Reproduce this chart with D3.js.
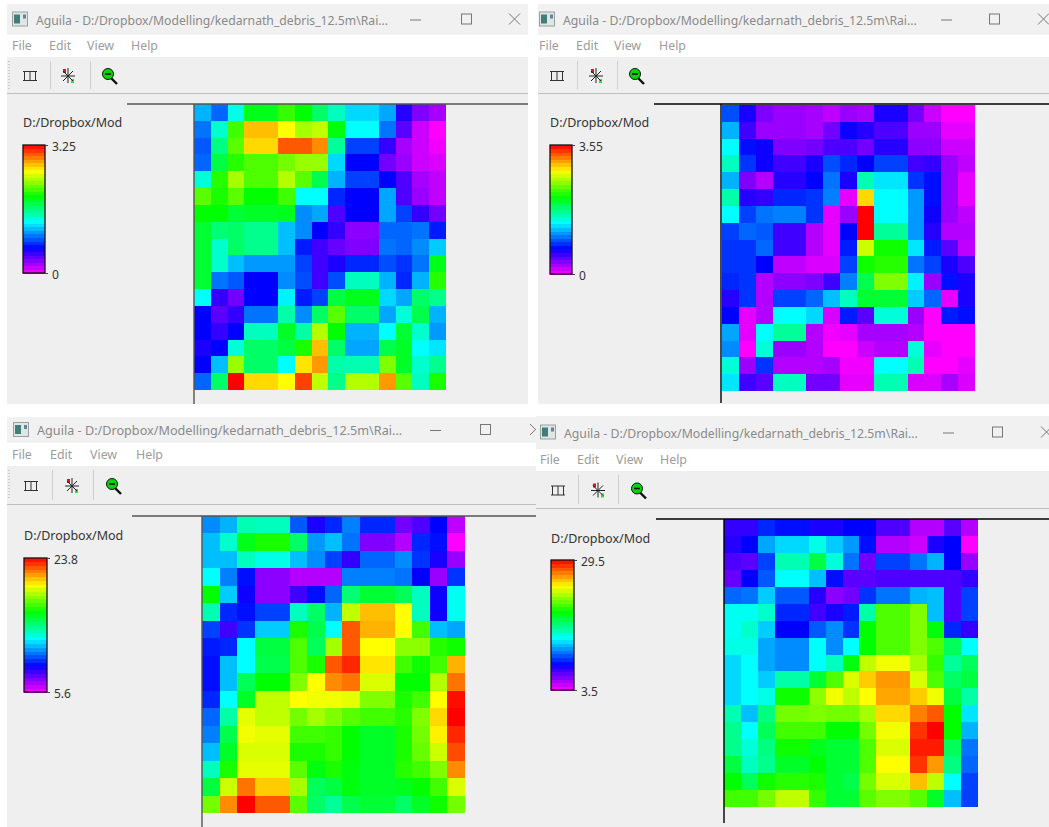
<!DOCTYPE html>
<html>
<head>
<meta charset="utf-8">
<script src="https://cdnjs.cloudflare.com/ajax/libs/d3/7.8.5/d3.min.js"></script>
<style>
  body { margin: 0; background: #fff; }
  text { font-family: "Noto Sans", sans-serif; }
</style>
</head>
<body>
<div id="wrapper"></div>
<script>
// grid values are given as position on the legend ramp, 0 = legend min, 100 = legend max
const rainA = [
  [34,28,42,58,58,64,60,52,45,37,37,33,17,10,7],
  [29,44,65,85,85,80,73,75,59,40,40,29,13,4,0],
  [27,50,67,83,83,93,93,89,48,25,25,16,7,4,1],
  [28,55,63,66,66,69,72,72,37,20,20,11,8,4,3],
  [43,63,73,66,66,74,67,54,34,25,25,20,14,7,5],
  [67,62,67,60,60,65,40,40,23,20,20,33,14,8,5],
  [60,60,56,57,57,58,31,33,14,20,20,33,25,16,11],
  [56,51,52,49,49,35,31,20,16,9,9,28,28,29,22],
  [56,44,52,49,49,35,22,15,12,10,10,29,28,31,36],
  [56,44,35,32,32,32,25,15,18,23,23,26,24,29,58],
  [56,29,27,20,20,31,26,15,26,45,45,34,23,34,63],
  [40,16,11,20,20,39,22,25,55,58,58,37,33,52,49],
  [20,13,16,29,29,47,31,52,67,52,52,33,43,54,34],
  [20,16,20,45,45,57,47,74,60,34,34,40,56,44,32],
  [18,20,43,52,52,55,62,85,52,33,33,54,57,40,38],
  [20,35,72,52,52,40,82,88,47,46,46,70,57,44,49],
  [28,52,100,83,83,80,95,75,49,74,74,88,67,45,62]
];
const rainB = [
  [26,18,10,8,8,7,5,8,7,18,18,11,4,0,0],
  [34,15,8,8,8,7,11,19,17,14,14,8,8,2,2],
  [40,21,19,10,10,11,14,14,11,17,17,9,9,4,4],
  [45,24,19,15,15,18,26,23,20,25,25,15,16,8,5],
  [34,10,6,17,17,20,29,18,46,38,38,24,21,8,2],
  [47,17,16,23,23,24,30,2,83,40,40,32,21,8,2],
  [40,25,29,30,30,24,2,8,100,40,40,32,19,8,5],
  [25,28,27,15,15,6,2,20,100,48,48,32,17,6,6],
  [24,24,28,15,15,6,2,22,76,61,61,38,22,13,5],
  [24,24,20,5,5,3,3,25,61,63,63,29,25,18,14],
  [23,24,6,9,9,10,15,30,54,70,70,39,8,21,18],
  [17,24,6,25,25,28,35,45,56,56,56,36,28,2,18],
  [20,2,6,40,40,37,3,22,13,43,43,8,0,22,21],
  [33,2,40,48,48,6,1,2,7,7,7,6,0,0,0],
  [31,0,43,8,8,6,0,0,4,6,6,43,2,0,0],
  [43,8,24,6,6,6,7,1,1,40,40,46,0,0,2],
  [38,15,13,45,45,11,11,2,2,46,46,3,3,7,3]
];
const rainC = [
  [31,34,46,45,45,27,18,23,30,23,23,11,14,20,5],
  [35,44,58,62,62,52,32,35,29,10,10,6,23,21,0],
  [35,35,45,42,42,35,31,25,16,28,28,31,24,18,8],
  [40,30,21,9,9,6,6,6,30,30,30,29,20,8,24],
  [60,36,19,9,9,15,21,28,51,56,56,53,45,19,41],
  [46,23,21,25,25,45,52,34,75,85,85,80,45,19,41],
  [25,15,24,36,36,62,54,40,93,86,86,80,65,35,33],
  [22,23,40,55,55,66,53,73,93,80,80,71,71,63,61],
  [21,35,40,54,54,66,62,93,97,82,82,65,61,65,86],
  [21,35,53,60,60,70,80,89,91,77,77,60,60,74,91],
  [23,40,57,75,75,80,79,79,78,70,70,62,65,80,99],
  [28,47,78,75,75,69,73,70,67,65,65,63,70,83,100],
  [30,54,79,78,78,65,65,64,60,57,57,62,69,81,97],
  [35,57,77,77,77,62,62,64,60,57,57,62,68,76,94],
  [45,62,78,78,78,67,59,62,59,57,57,63,65,70,89],
  [55,76,91,84,84,73,53,55,59,57,57,58,60,65,77],
  [69,89,100,93,93,67,52,48,54,56,56,52,57,61,69]
];
const rainD = [
  [16,16,23,21,21,18,18,20,20,14,14,6,6,13,6],
  [17,20,33,37,37,42,36,32,21,6,6,4,18,20,0],
  [14,13,25,46,46,55,43,29,11,25,25,29,34,20,8],
  [12,20,27,40,40,35,21,13,13,14,14,14,14,14,16],
  [28,29,36,27,27,17,9,11,24,29,29,34,35,14,25],
  [41,41,44,23,23,15,18,22,47,66,66,70,35,14,25],
  [41,44,36,20,20,27,31,24,60,66,66,70,59,23,16],
  [42,42,33,31,31,40,31,40,60,66,66,70,66,53,40],
  [37,40,33,31,31,40,45,59,75,79,79,73,64,48,53],
  [37,40,36,47,47,56,66,77,84,88,88,77,66,52,55],
  [37,40,42,61,61,71,79,75,80,87,87,84,79,55,47],
  [46,35,50,69,69,70,69,69,73,83,83,90,93,60,38],
  [49,40,53,65,65,65,60,60,69,79,79,96,100,60,34],
  [49,43,50,61,61,58,56,56,66,77,77,98,98,53,29],
  [55,45,49,57,57,60,56,56,66,80,80,96,88,50,28],
  [60,53,61,63,63,62,56,54,69,77,77,85,75,40,25],
  [65,65,69,75,75,64,56,56,67,70,70,67,57,35,25]
];

const rainfall = [rainA, rainB, rainC, rainD];
const legendMin = ["0", "0", "5.6", "3.5"];
const legendMax = ["3.25", "3.55", "23.8", "29.5"];
const legendTitle = "D:/Dropbox/Mod";
const windowTitle = "Aguila - D:/Dropbox/Modelling/kedarnath_debris_12.5m\\Rai...";
const menuItems = ["File", "Edit", "View", "Help"];

// window layouts
const layouts = [
  { x0:7, x1:528, top:4, titleBottom:35, menuBottom:57, barBottom:93, bottom:404, titleSize:12.2,
    iconX:12, titleX:36, menuX:[12,49,87,131], minX:410, maxX:461, closeX:509,
    colsX:23, sep:[50,90], crossX:61, zoomX:102, axisLeft:127, axisTop:104, axisX:194, axisEnd:404,
    mapX:[194,446], mapY:[104,390], legX:[23,45], legY:[145,273], legTitleY:127, axisColor:"#555", grip:9 },
  { x0:538, x1:1049, top:4, titleBottom:35, menuBottom:57, barBottom:93, bottom:404, titleSize:12.25,
    iconX:539, titleX:563, menuX:[539,576,614,659], minX:941, maxX:989, closeX:1038,
    colsX:550, sep:[577,617], crossX:589, zoomX:629, axisLeft:654, axisTop:104, axisX:721, axisEnd:403,
    mapX:[722,975], mapY:[105,391], legX:[550,572], legY:[145,274], legTitleY:127, axisColor:"#000" },
  { x0:7, x1:536, top:417, titleBottom:443, menuBottom:466, barBottom:504, bottom:827, titleSize:12.65,
    iconX:13, titleX:37, menuX:[12,50,90,136], minX:430, maxX:480, closeX:530,
    colsX:24, sep:[52,93], crossX:65, zoomX:106, axisLeft:132, axisTop:516, axisX:202, axisEnd:827,
    mapX:[202,465], mapY:[516,813], legX:[24,47], legY:[558,692], legTitleY:540, axisColor:"#555", grip:9 },
  { x0:536, x1:1049, top:416, titleBottom:449, menuBottom:471, barBottom:508, bottom:827, titleSize:12.25,
    iconX:540, titleX:564, menuX:[540,577,616,660], minX:943, maxX:992, closeX:1041,
    colsX:551, sep:[578,618], crossX:591, zoomX:631, axisLeft:656, axisTop:519, axisX:724, axisEnd:823,
    mapX:[724,978], mapY:[519,807], legX:[551,574], legY:[560,690], legTitleY:543, axisColor:"#000" }
];

const hueRamp = t => d3.hsl(300 * (1 - t), 1, 0.5) + "";
const color = d3.scaleSequential(hueRamp).domain([0, 100]);
const rampSteps = d3.range(0, 100, 100 / 36);

const wrapper = d3.select("#wrapper")
  .append("svg")
  .attr("width", 1049)
  .attr("height", 827)
  .style("display", "block");

function drawChrome(g, w) {
  const width = w.x1 - w.x0;
  g.append("rect").attr("x", w.x0).attr("y", w.top).attr("width", width).attr("height", w.bottom - w.top).attr("fill", "#efefef");
  g.append("rect").attr("x", w.x0).attr("y", w.top).attr("width", width).attr("height", w.titleBottom - w.top).attr("fill", "#f1f1f1");
  g.append("rect").attr("x", w.x0).attr("y", w.titleBottom).attr("width", width).attr("height", w.menuBottom - w.titleBottom).attr("fill", "#fff");
  g.append("line").attr("x1", w.x0).attr("x2", w.x1).attr("y1", w.barBottom + 0.5).attr("y2", w.barBottom + 0.5).attr("stroke", "#bdbdbd");

  // title bar
  const midT = (w.top + w.titleBottom) / 2;
  g.append("rect").attr("x", w.iconX + 0.5).attr("y", midT - 7.5).attr("width", 15).attr("height", 14).attr("fill", "#dfe6e6").attr("stroke", "#9aa0a0");
  g.append("rect").attr("x", w.iconX + 2).attr("y", midT - 5).attr("width", 6).attr("height", 9).attr("fill", "#3f7f78");
  g.append("rect").attr("x", w.iconX + 11).attr("y", midT - 5).attr("width", 3).attr("height", 4).attr("fill", "#6b7f9a");
  g.append("text").attr("x", w.titleX).attr("y", midT + 5).attr("font-size", w.titleSize).attr("fill", "#8a8a8a").text(windowTitle);
  g.append("line").attr("x1", w.minX).attr("x2", w.minX + 11).attr("y1", midT + 0.5).attr("y2", midT + 0.5).attr("stroke", "#777");
  g.append("rect").attr("x", w.maxX + 0.5).attr("y", midT - 5.5).attr("width", 10).attr("height", 10).attr("fill", "none").attr("stroke", "#777");
  g.append("path").attr("d", `M${w.closeX},${midT - 6}l11,11M${w.closeX + 11},${midT - 6}l-11,11`).attr("stroke", "#777").attr("fill", "none");

  // menu
  const midM = (w.titleBottom + w.menuBottom) / 2;
  g.selectAll(".menu").data(menuItems).join("text")
    .attr("x", (d, i) => w.menuX[i])
    .attr("y", midM + 4)
    .attr("font-size", 12.4)
    .attr("fill", "#9c9c9c")
    .text(d => d);

  // toolbar
  const midB = (w.menuBottom + w.barBottom) / 2 + 1;
  if (w.grip) {
    g.append("line").attr("x1", w.grip).attr("x2", w.grip).attr("y1", w.menuBottom + 4).attr("y2", w.barBottom - 4)
      .attr("stroke", "#aaa").attr("stroke-dasharray", "1,2");
  }
  g.selectAll(".sep").data(w.sep).join("line")
    .attr("x1", d => d + 0.5).attr("x2", d => d + 0.5)
    .attr("y1", w.menuBottom + 4).attr("y2", w.barBottom - 4)
    .attr("stroke", "#cfcfcf");
  g.append("path")
    .attr("d", `M${w.colsX},${midB - 4.5}h14M${w.colsX},${midB + 4.5}h14M${w.colsX + 1.5},${midB - 4.5}v9M${w.colsX + 7},${midB - 4.5}v9M${w.colsX + 12.5},${midB - 4.5}v9`)
    .attr("stroke", "#333").attr("fill", "none");
  g.append("rect").attr("x", w.crossX + 2).attr("y", midB - 7).attr("width", 3).attr("height", 4).attr("fill", "#e01515");
  g.append("rect").attr("x", w.crossX + 10).attr("y", midB + 3).attr("width", 3).attr("height", 4).attr("fill", "#35e035");
  g.append("path")
    .attr("d", `M${w.crossX + 7},${midB - 8}v15M${w.crossX},${midB}h14M${w.crossX + 2},${midB - 5}l10,10M${w.crossX + 12},${midB - 5}l-10,10`)
    .attr("stroke", "#222").attr("fill", "none");
  g.append("line").attr("x1", w.zoomX + 9).attr("y1", midB + 2).attr("x2", w.zoomX + 15).attr("y2", midB + 8).attr("stroke", "#111").attr("stroke-width", 2.4);
  g.append("circle").attr("cx", w.zoomX + 6).attr("cy", midB - 2).attr("r", 5.5).attr("fill", "#0bd30b").attr("stroke", "#111");
  g.append("line").attr("x1", w.zoomX + 3).attr("x2", w.zoomX + 9).attr("y1", midB - 2).attr("y2", midB - 2).attr("stroke", "#111").attr("stroke-width", 1.6);
}

function drawMap(g, w, values) {
  const xScale = d3.scaleBand().domain(d3.range(values[0].length)).range(w.mapX);
  const yScale = d3.scaleBand().domain(d3.range(values.length)).range(w.mapY);

  g.append("g")
    .selectAll("g")
    .data(values)
    .join("g")
    .attr("transform", (d, i) => `translate(0,${yScale(i)})`)
    .selectAll("rect")
    .data(d => d)
    .join("rect")
    .attr("x", (d, i) => xScale(i))
    .attr("width", xScale.bandwidth() + 0.4)
    .attr("height", yScale.bandwidth() + 0.4)
    .attr("fill", d => color(d))
    .attr("shape-rendering", "crispEdges");

  g.append("line").attr("x1", w.axisLeft).attr("x2", w.x1).attr("y1", w.axisTop).attr("y2", w.axisTop).attr("stroke", w.axisColor).attr("stroke-width", 1.4);
  g.append("line").attr("x1", w.axisX).attr("x2", w.axisX).attr("y1", w.axisTop).attr("y2", w.axisEnd).attr("stroke", w.axisColor).attr("stroke-width", 1.4);
}

function drawLegend(g, w, lo, hi) {
  const rampY = d3.scaleLinear().domain([0, 100]).range([w.legY[1], w.legY[0]]);
  const step = 100 / 36;

  g.append("g").selectAll("rect").data(rampSteps).join("rect")
    .attr("x", w.legX[0])
    .attr("y", d => rampY(d + step))
    .attr("width", w.legX[1] - w.legX[0])
    .attr("height", rampY(0) - rampY(step) + 0.5)
    .attr("fill", d => color(d + step / 2))
    .attr("shape-rendering", "crispEdges");
  g.append("rect")
    .attr("x", w.legX[0]).attr("y", w.legY[0])
    .attr("width", w.legX[1] - w.legX[0]).attr("height", w.legY[1] - w.legY[0])
    .attr("fill", "none").attr("stroke", "#111").attr("stroke-width", 1.3);

  const legendAxis = d3.axisRight(d3.scalePoint().domain([lo, hi]).range(w.legY.slice().reverse()))
    .tickSize(3)
    .tickPadding(4);
  g.append("g")
    .attr("transform", `translate(${w.legX[1]},0)`)
    .call(legendAxis)
    .call(a => a.select(".domain").remove())
    .call(a => a.selectAll("line").attr("stroke", "#444"))
    .call(a => a.selectAll("text").attr("dy", "0.42em").attr("font-size", 12).attr("fill", "#333").style("font-family", '"Noto Sans", sans-serif'));

  g.append("text").attr("x", w.legX[0]).attr("y", w.legTitleY).attr("font-size", 12.5).attr("fill", "#333").text(legendTitle);
}

layouts.forEach((w, i) => {
  const g = wrapper.append("g");
  drawChrome(g, w);
  drawMap(g, w, rainfall[i]);
  drawLegend(g, w, legendMin[i], legendMax[i]);
});
</script>
</body>
</html>
